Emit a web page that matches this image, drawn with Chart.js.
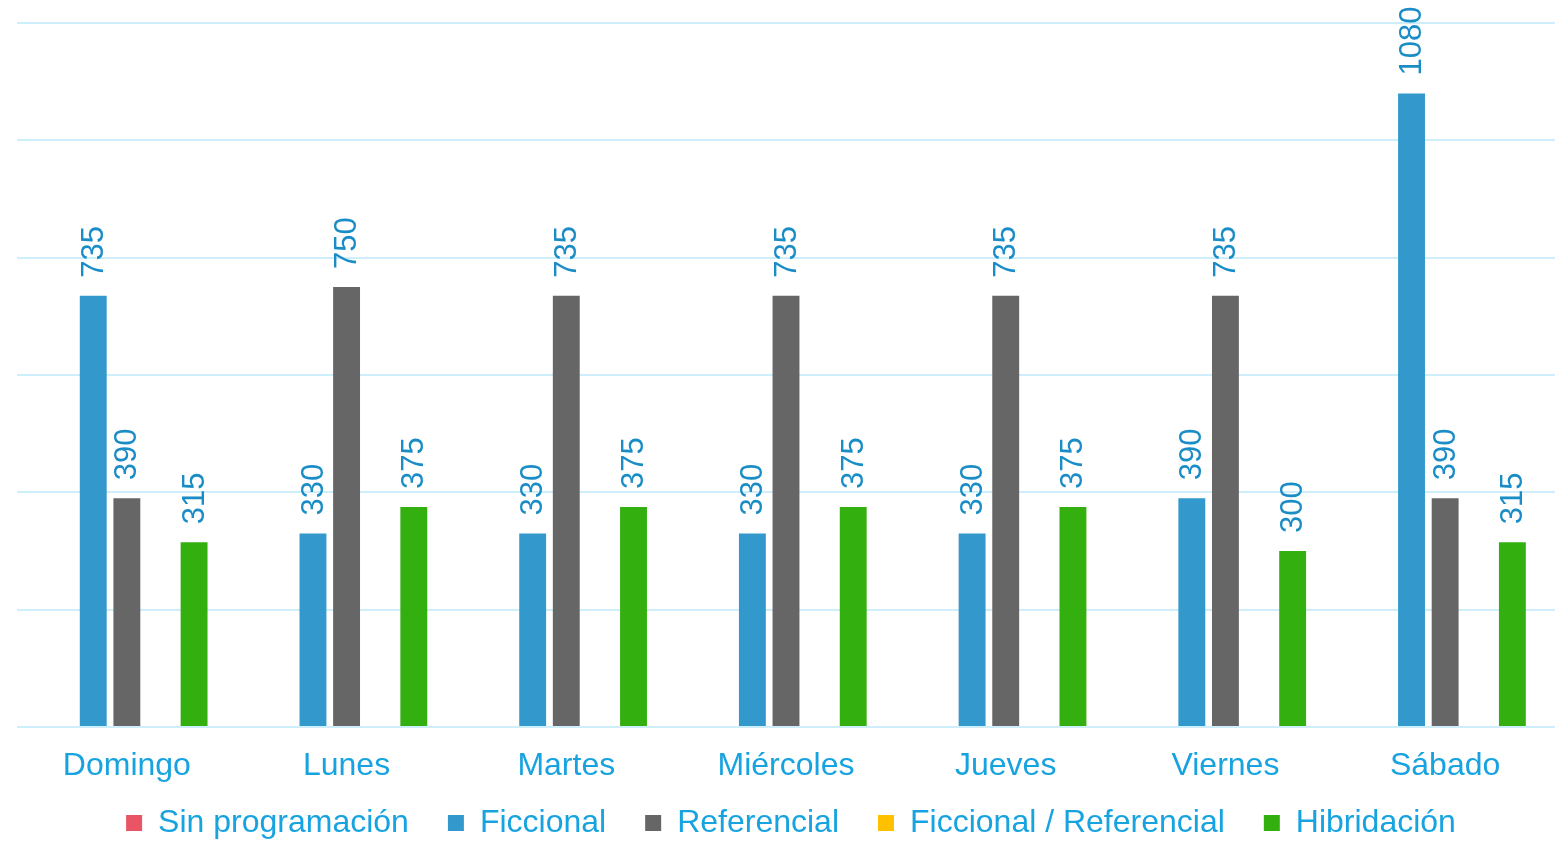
<!DOCTYPE html>
<html>
<head>
<meta charset="utf-8">
<script src="https://cdn.jsdelivr.net/npm/chart.js@4.4.0/dist/chart.umd.min.js"></script>
<style>
  html, body { margin: 0; padding: 0; background: #fff; }
  #wrap { width: 1561px; height: 842px; position: relative; }
</style>
</head>
<body>
<div id="wrap"><canvas id="programChart"></canvas></div>
<script>
// data
const days = ['Domingo', 'Lunes', 'Martes', 'Miércoles', 'Jueves', 'Viernes', 'Sábado'];
const sinProgramacion = [0, 0, 0, 0, 0, 0, 0];
const ficcional = [735, 330, 330, 330, 330, 390, 1080];
const referencial = [390, 750, 735, 735, 735, 735, 390];
const ficcionalReferencial = [0, 0, 0, 0, 0, 0, 0];
const hibridacion = [315, 375, 375, 375, 375, 300, 315];

const textBlue = '#16a3e0';
const labelBlue = '#1a8cc6';
const gridBlue = '#cdeefa';
const fontFamily = '"Liberation Sans", Arial, sans-serif';

// rotated value labels above each bar
const valueLabels = {
    id: 'valueLabels',
    afterDatasetsDraw(chart) {
        const ctx = chart.ctx;
        ctx.save();
        ctx.fillStyle = labelBlue;
        ctx.font = '31px ' + fontFamily;
        ctx.textAlign = 'left';
        ctx.textBaseline = 'middle';
        chart.data.datasets.forEach((ds, i) => {
            const meta = chart.getDatasetMeta(i);
            meta.data.forEach((bar, j) => {
                const v = ds.data[j];
                if (!v) return;
                ctx.save();
                ctx.translate(bar.x + 1, bar.y - 18);
                ctx.rotate(-Math.PI / 2);
                ctx.fillText(String(v), 0, 0);
                ctx.restore();
            });
        });
        ctx.restore();
    }
};

const ctx = document.getElementById('programChart').getContext('2d');
const myChart = new Chart(ctx, {
    type: 'bar',
    data: {
        labels: days,
        datasets: [
            { label: 'Sin programación', data: sinProgramacion, backgroundColor: '#e95565' },
            { label: 'Ficcional', data: ficcional, backgroundColor: '#3399cc' },
            { label: 'Referencial', data: referencial, backgroundColor: '#666666' },
            { label: 'Ficcional / Referencial', data: ficcionalReferencial, backgroundColor: '#ffc000' },
            { label: 'Hibridación', data: hibridacion, backgroundColor: '#33b010' }
        ]
    },
    options: {
        responsive: true,
        maintainAspectRatio: false,
        animation: false,
        categoryPercentage: 0.765,
        barPercentage: 0.8,
        // right padding is negative and the hidden y axis sits on the right,
        // so the legend is centred a bit further right than the plot
        layout: { padding: { left: 17, right: -20, top: 23, bottom: -7 } },
        plugins: {
            tooltip: { enabled: false },
            legend: {
                position: 'bottom',
                labels: {
                    color: textBlue,
                    boxWidth: 16,
                    boxHeight: 16,
                    padding: 23,
                    font: { family: fontFamily, size: 32 },
                    // an en space after each name widens the gap between items
                    generateLabels(chart) {
                        const items = Chart.defaults.plugins.legend.labels.generateLabels(chart);
                        items.forEach(it => { it.text = it.text + '\u2002'; });
                        return items;
                    }
                }
            }
        },
        scales: {
            x: {
                grid: { display: false, drawTicks: false },
                border: { display: false },
                ticks: {
                    color: textBlue,
                    padding: 20,
                    font: { family: fontFamily, size: 32 }
                },
                afterFit(scale) { scale.height = 57; }
            },
            y: {
                position: 'right',
                min: 0,
                max: 1200,
                ticks: { display: false, stepSize: 200 },
                grid: { color: gridBlue, lineWidth: 2, drawTicks: false },
                border: { display: false },
                afterFit(scale) { scale.width = 26; }
            }
        }
    },
    plugins: [valueLabels]
});
</script>
</body>
</html>
